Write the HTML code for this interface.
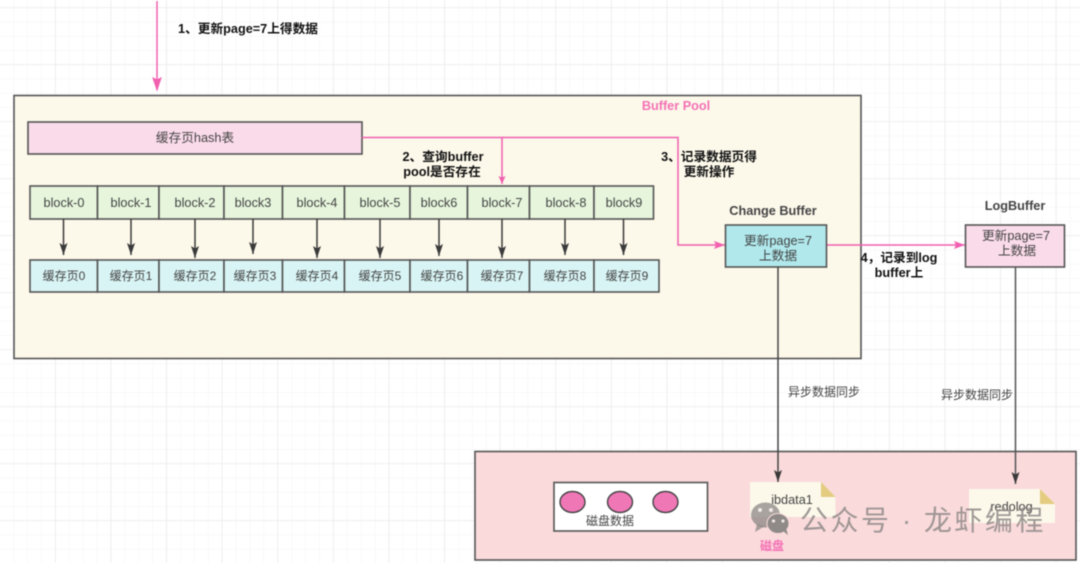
<!DOCTYPE html>
<html>
<head>
<meta charset="utf-8">
<style>
html,body{margin:0;padding:0;width:1080px;height:563px;overflow:hidden;background:#fff}
svg{display:block;filter:blur(0.5px)}
text{font-family:"Liberation Sans","Noto Sans CJK SC",sans-serif;font-size:12.7px;fill:#444;text-anchor:middle}
.b{font-weight:bold;fill:#111}
.p{font-weight:bold;fill:#f472b6}
.s{font-size:12px}
.box{stroke:#555;stroke-width:1.6}
.g{fill:#e6f5dc}
.c{fill:#d9f4f5}
</style>
</head>
<body>
<svg width="1080" height="563" viewBox="0 0 1080 563" xmlns="http://www.w3.org/2000/svg">
<defs>
<pattern id="minor" width="13.9" height="14.25" patternUnits="userSpaceOnUse" x="0" y="8">
<path d="M13.9 0V14.25M0 14.25H13.9" fill="none" stroke="#f3f3f3" stroke-width="1"/>
</pattern>
<pattern id="major" width="55.6" height="57" patternUnits="userSpaceOnUse" x="0" y="8">
<path d="M55.6 0V57M0 57H55.6" fill="none" stroke="#e6e6e6" stroke-width="1.2"/>
</pattern>
<marker id="ap" markerWidth="12" markerHeight="10" refX="11" refY="4" orient="auto" markerUnits="userSpaceOnUse"><path d="M0 0L11 4L0 8L2 4Z" fill="#f25fb0"/></marker>
<marker id="aps" markerWidth="10" markerHeight="10" refX="8" refY="3.5" orient="auto" markerUnits="userSpaceOnUse"><path d="M0 0L8 3.5L0 7L1.5 3.5Z" fill="#f25fb0"/></marker>
<marker id="ad" markerWidth="13" markerHeight="10" refX="12" refY="4" orient="auto" markerUnits="userSpaceOnUse"><path d="M0 0L12 4L0 8L2.5 4Z" fill="#3a3a3a"/></marker>
</defs>
<rect width="1080" height="563" fill="#fff"/>
<rect width="1080" height="563" fill="url(#minor)"/>
<rect width="1080" height="563" fill="url(#major)"/>

<!-- Top arrow -->
<path d="M157 1V90" fill="none" stroke="#f25fb0" stroke-width="1.5"/>
<path d="M157 90L153 78L157 80L161 78Z" fill="#f25fb0" stroke="#f25fb0"/>
<text class="b" x="248" y="33">1、更新page=7上得数据</text>

<!-- Buffer pool -->
<rect class="box" x="14" y="95.5" width="847" height="263" fill="#fcf8ea"/>
<text class="p" x="676" y="110">Buffer Pool</text>

<!-- Hash -->
<rect class="box" x="28" y="122" width="334" height="32" fill="#fadbea"/>
<text x="195" y="142">缓存页hash表</text>

<!-- block row -->
<g class="box g">
<rect x="30" y="186" width="67.5" height="33"/>
<rect x="97.5" y="186" width="61.5" height="33"/>
<rect x="159" y="186" width="65" height="33"/>
<rect x="224" y="186" width="58.5" height="33"/>
<rect x="282.5" y="186" width="62" height="33"/>
<rect x="344.5" y="186" width="65.5" height="33"/>
<rect x="410" y="186" width="57.5" height="33"/>
<rect x="467.5" y="186" width="62" height="33"/>
<rect x="529.5" y="186" width="64.5" height="33"/>
<rect x="594" y="186" width="59.5" height="33"/>
</g>
<g>
<text x="64" y="207">block-0</text>
<text x="131" y="207">block-1</text>
<text x="195" y="207">block-2</text>
<text x="253" y="207">block3</text>
<text x="317" y="207">block-4</text>
<text x="380" y="207">block-5</text>
<text x="439" y="207">block6</text>
<text x="502" y="207">block-7</text>
<text x="566" y="207">block-8</text>
<text x="624" y="207">block9</text>
</g>

<!-- cache row -->
<g class="box c">
<rect x="30" y="260" width="67.5" height="32"/>
<rect x="97.5" y="260" width="61.5" height="32"/>
<rect x="159" y="260" width="65" height="32"/>
<rect x="224" y="260" width="58.5" height="32"/>
<rect x="282.5" y="260" width="62" height="32"/>
<rect x="344.5" y="260" width="65.5" height="32"/>
<rect x="410" y="260" width="57.5" height="32"/>
<rect x="467.5" y="260" width="62" height="32"/>
<rect x="529.5" y="260" width="64.5" height="32"/>
<rect x="594" y="260" width="65" height="32"/>
</g>
<g>
<text class="s" x="64" y="280">缓存页0</text>
<text class="s" x="131" y="280">缓存页1</text>
<text class="s" x="195" y="280">缓存页2</text>
<text class="s" x="255" y="280">缓存页3</text>
<text class="s" x="317" y="280">缓存页4</text>
<text class="s" x="380" y="280">缓存页5</text>
<text class="s" x="442" y="280">缓存页6</text>
<text class="s" x="502" y="280">缓存页7</text>
<text class="s" x="565" y="280">缓存页8</text>
<text class="s" x="627" y="280">缓存页9</text>
</g>

<!-- block arrows -->
<g fill="none" stroke="#3a3a3a" stroke-width="1.5" marker-end="url(#ad)">
<path d="M63.5 219V255"/>
<path d="M131 219V255"/>
<path d="M195 219V258"/>
<path d="M253 219V254"/>
<path d="M317 219V258"/>
<path d="M380 219V258"/>
<path d="M439 219V256"/>
<path d="M502 219V258"/>
<path d="M565 219V255"/>
<path d="M623.5 219V255"/>
</g>

<!-- pink lines -->
<path d="M362 137.5H678V245H725" fill="none" stroke="#f25fb0" stroke-width="1.5" marker-end="url(#ap)"/>
<path d="M502 137.5V184" fill="none" stroke="#f25fb0" stroke-width="1.5" marker-end="url(#aps)"/>
<path d="M827 245H965" fill="none" stroke="#f25fb0" stroke-width="1.5" marker-end="url(#ap)"/>

<text class="b" x="443" y="161">2、查询buffer</text>
<text class="b" x="442" y="176">pool是否存在</text>
<text class="b" x="709" y="161">3、记录数据页得</text>
<text class="b" x="709" y="176">更新操作</text>

<!-- Change buffer -->
<text x="773" y="215" font-weight="bold" fill="#333">Change Buffer</text>
<rect class="box" x="725.5" y="225" width="101" height="42" fill="#b0e8ec"/>
<text x="778" y="245">更新page=7</text>
<text x="778" y="260">上数据</text>

<!-- Log buffer -->
<text x="1015" y="210" font-weight="bold" fill="#333">LogBuffer</text>
<rect class="box" x="965.5" y="225" width="99" height="42" fill="#fadbea"/>
<text x="1016" y="240">更新page=7</text>
<text x="1017" y="255">上数据</text>

<text class="b" x="899" y="262">4，记录到log</text>
<text class="b" x="899" y="277">buffer上</text>

<!-- Disk -->
<rect class="box" x="475" y="451.5" width="601" height="108.5" fill="#fadadb"/>

<!-- sync lines -->
<path d="M778 267V482" fill="none" stroke="#444" stroke-width="1.5" marker-end="url(#ad)"/>
<path d="M1015.5 267V484" fill="none" stroke="#555" stroke-width="1.5" marker-end="url(#ad)"/>
<text class="s" x="824" y="396">异步数据同步</text>
<text class="s" x="977" y="399">异步数据同步</text>

<!-- disk data -->
<rect class="box" x="554" y="482.5" width="153.5" height="48.5" fill="#fff"/>
<g fill="#ef77b6" stroke="#444" stroke-width="1.4">
<ellipse cx="572.5" cy="502" rx="12.5" ry="10.5"/>
<ellipse cx="620" cy="502" rx="12.5" ry="10.5"/>
<ellipse cx="665.5" cy="502" rx="12.5" ry="10.5"/>
</g>
<text class="s" x="610" y="525">磁盘数据</text>

<!-- ibdata -->
<path d="M750 482H821L835.5 497V517H750Z" fill="#fcf8ea"/>
<path d="M821 482L835.5 497H821Z" fill="#e3cb7f"/>
<text x="792" y="504">ibdata1</text>

<!-- redolog -->
<path d="M969 489H1040L1055 504V523H969Z" fill="#fcf8ea"/>
<path d="M1040 489L1055 504H1040Z" fill="#e3cb7f"/>
<text x="1011.5" y="511">redolog</text>

<text class="p s" x="772" y="550">磁盘</text>

<!-- watermark -->
<g fill="#8f8a88" fill-opacity="0.78">
<ellipse cx="765.5" cy="515" rx="14.5" ry="12.5"/>
<path d="M757 524L755 532L765 526Z"/>
</g>
<g fill="#8f8a88">
<ellipse cx="778" cy="523.5" rx="11" ry="10" stroke="#fadadb" stroke-width="1"/>
<path d="M783 531L788 535L786 528Z"/>
</g>
<g fill="#f3e8e6">
<circle cx="760" cy="510" r="2"/><circle cx="771" cy="510" r="2"/>
<circle cx="773.5" cy="521" r="1.6"/><circle cx="783" cy="521" r="1.6"/>
</g>
<text x="923" y="530" style="font-size:28px;letter-spacing:2.5px;fill:#8f8a88;fill-opacity:.85">公众号 · 龙虾编程</text>
</svg>
</body>
</html>
